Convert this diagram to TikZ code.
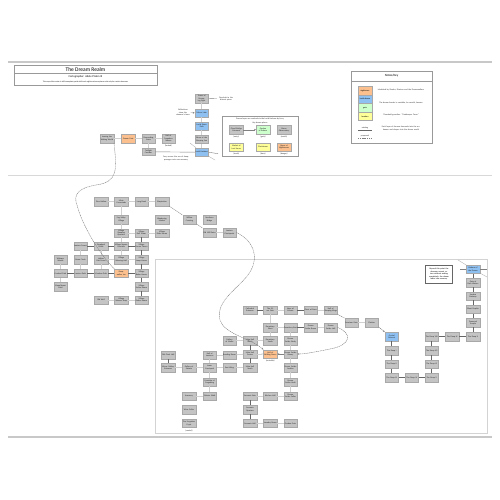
\documentclass[tikz,border=0pt]{standalone}
\usepackage{fontspec}
\setmainfont{Carlito}
\usetikzlibrary{arrows.meta,shadows}
\definecolor{boxfill}{HTML}{C4C4C4}
\definecolor{boxdraw}{HTML}{A8A8A8}
\definecolor{orangefill}{HTML}{FBC08E}
\definecolor{bluefill}{HTML}{8EC0F2}
\definecolor{greenfill}{HTML}{CCFFCC}
\definecolor{yellowfill}{HTML}{FFFF99}
\definecolor{linelight}{HTML}{D0D0D0}
\definecolor{linedark}{HTML}{666666}
\definecolor{framegray}{HTML}{C8C8C8}
\tikzset{
 box/.style={draw=boxdraw, fill=boxfill, line width=0.4pt, minimum width=13.5pt, minimum height=8.5pt, inner sep=0pt, text width=13pt, align=center, font=\fontsize{2.1}{2.4}\selectfont, text=black!85, drop shadow={shadow xshift=0.5pt, shadow yshift=-0.5pt, fill=black!60, opacity=1}},
 obox/.style={box, fill=orangefill},
 bbox/.style={box, fill=bluefill},
 gbox/.style={box, fill=greenfill},
 ybox/.style={box, fill=yellowfill},
 lite/.style={draw=linelight, line width=0.8pt},
 dark/.style={draw=linedark, line width=1pt},
 curvy/.style={draw=gray, line width=0.4pt, dash pattern=on 1.2pt off 0.6pt},
 tinytext/.style={font=\fontsize{2.1}{2.4}\selectfont, align=center, inner sep=0pt, text=black!80},
 arr/.style={-{Stealth[length=2pt,width=1.6pt]}},
}
\begin{document}
\begin{tikzpicture}[x=1pt,y=-1pt]
\useasboundingbox (0,0) rectangle (500,500);
\fill[white] (0,0) rectangle (500,500);

% frame lines
\draw[framegray, line width=1.6pt] (8,62) -- (492,62);
\draw[framegray!70, line width=1pt] (8,175) -- (492,175);
\draw[framegray, line width=1.6pt] (8,437) -- (492,437);
\draw[framegray!80, line width=0.6pt] (155,259) rectangle (487,433);

% title box
\draw[gray!80, line width=0.5pt] (14,65.7) rectangle (157,85);
\draw[gray!80, line width=0.5pt] (14,73.3) -- (157,73.3);
\node[font=\fontsize{5.5}{6}\selectfont, inner sep=0pt] (title) at (85.5,69.6) {The Dream Realm};
\node[font=\fontsize{2.8}{3}\selectfont, inner sep=0pt] (subtitle) at (85.5,77.2) {Cartographer: Adele Platon III};
\node[font=\fontsize{1.9}{2}\selectfont, inner sep=0pt] (subnote) at (85.5,81.6) {This map of the realm is still incomplete; paths shift each night and some places exist only for certain dreamers};

% legend
\draw[gray!80, line width=0.5pt] (351,71) rectangle (432,143);
\draw[gray!80, line width=0.5pt] (351,81) -- (432,81);
\node[font=\fontsize{3.2}{3.5}\selectfont, inner sep=0pt] (keyhead) at (391.5,76) {Notes/Key};
\node[draw=boxdraw, fill=orangefill, minimum width=14pt, minimum height=8.6pt, inner sep=0pt, font=\fontsize{2.1}{2.4}\selectfont] (k1) at (365,90.5) {nightmare};
\node[draw=boxdraw, fill=bluefill, minimum width=14pt, minimum height=8.6pt, inner sep=0pt, font=\fontsize{2.1}{2.4}\selectfont] (k2) at (365,99.1) {lucid dream};
\node[draw=boxdraw, fill=greenfill, minimum width=14pt, minimum height=8.6pt, inner sep=0pt, font=\fontsize{2.1}{2.4}\selectfont] (k3) at (365,107.7) {gate};
\node[draw=boxdraw, fill=yellowfill, minimum width=14pt, minimum height=8.6pt, inner sep=0pt, font=\fontsize{2.1}{2.4}\selectfont] (k4) at (365,116.3) {location};
\node[tinytext, text width=48pt] (kt1) at (401,89.6) {Inhabited by Shades, Illusions and the Dreamwalkers};
\node[tinytext, text width=48pt] (kt2) at (401,102.6) {The dream border is unstable, be careful, beware};
\node[tinytext, text width=48pt] (kt3) at (401,115.3) {Threshold guardian: ``Gatekeeper Taron''};
\node[tinytext, text width=48pt] (kt4) at (401,128.3) {Each layer of dreams descends into the unknown and deeper into the dream world};
\node[tinytext] (kl1) at (365,127.6) {existing};
\coordinate (kl1a) at (358,130);
\coordinate (kl1b) at (372,130);
\draw[linedark, line width=0.6pt] (kl1a) -- (kl1b);
\node[tinytext] (kl2) at (365,135.5) {proposed};
\coordinate (kl2a) at (358,137.8);
\coordinate (kl2b) at (372,137.8);
\draw[curvy] (kl2a) -- (kl2b);

% ---------- top section ----------
\node[box] (T1) at (107,138.5) {Leaving the Waking World};
\node[obox] (T2) at (128.3,138.5) {Dream Gate};
\node[box] (T3) at (148.5,138.5) {Descending Stairs};
\node[box] (T4) at (168.5,138.5) {Hall of Forgotten Names};
\node[tinytext] (T4l) at (168.5,145.6) {(locked)};
\node[box, minimum height=7.5pt] (T5) at (148.5,151.8) {Twilight Corridor};
\draw[lite] (T1) -- (T2);
\draw[lite] (T2) -- (T3);
\draw[lite] (T3) -- (T4);
\draw[lite] (T3) -- (T5);

\node[box] (C1) at (201.7,98.5) {Tower of Dreaming Sight};
\node[bbox] (C2) at (201.7,113) {Mirror Lake};
\node[bbox] (C3) at (201.7,126) {Lucid Shore Path};
\node[box] (C4) at (201.7,139.3) {Shore of the Sleeping Sea};
\node[bbox] (C5) at (201.7,152.2) {Lucid Harbour};
\draw[lite] (C1) -- (C2);
\draw[lite] (C2) -- (C3);
\draw[lite] (C3) -- (C4);
\draw[lite] (C4) -- (C5);
\node[tinytext, text width=18pt] (C1t) at (226,98.8) {Overlook to the distant spires};
\draw[gray, line width=0.3pt] (C1) -- (C1t);
\node[tinytext, text width=15pt] (C2t) at (183,112.6) {Reflections show the dreamer's fears};
\draw[gray, line width=0.3pt, arr] (C2t) -- (C2);
\coordinate (hl) at (218,153.7);
\draw[gray, line width=0.4pt] (T5.east) -- (C5.west);
\draw[gray, line width=0.4pt] (C5.east) -- (hl);
\coordinate (dg1) at (190,143);
\coordinate (dg2) at (215,160);
\draw[gray!70, line width=0.3pt] (dg1) -- (C5);
\draw[gray!70, line width=0.3pt] (C5) -- (dg2);
\node[tinytext, text width=26pt] (C5t) at (176,158.6) {Ferry across the sea of sleep; passage costs one memory};

% inner key box
\draw[gray!80, line width=0.5pt] (222,116.5) rectangle (298,156);
\node[tinytext] (ih1) at (260,119.2) {Dream layers are reached via the Lucid Harbour by ferry};
\node[tinytext] (ih2) at (260,123.2) {Key dream places};
\node[box] (I1) at (236.3,129.7) {Cloud Bridge Entrance};
\node[gbox] (I2) at (263,129.7) {Garden of Echoes};
\node[box] (I3) at (284,129.7) {Moon Observatory};
\node[ybox] (I4) at (236.3,147.2) {Market of Lost Hours};
\node[ybox] (I5) at (263,147.2) {Clock\-tower};
\node[obox] (I6) at (284,147.2) {Abyss of Nightmares};
\draw[gray, line width=0.3pt, arr] (I1) -- (I2);
\node[tinytext] (I1l) at (236.3,136.8) {(entry)};
\node[tinytext] (I2l) at (263,136.8) {(gate)};
\node[tinytext] (I3l) at (284,136.8) {(watch)};
\node[tinytext] (I4l) at (236.3,154.2) {(trade)};
\node[tinytext] (I5l) at (263,154.2) {(time)};
\node[tinytext] (I6l) at (284,154.2) {(danger)};

% ---------- left cluster ----------
\node[box] (a1) at (101.3,201.5) {Pine Hollow};
\node[box] (a2) at (121.3,201.5) {Misty Crossroads};
\node[box] (a3) at (141.5,201.5) {Long Road};
\node[box] (a4) at (162,201.5) {Waystation};
\node[box] (b1) at (121.3,219.5) {Fog Valley Village};
\node[box] (b2) at (162,219.5) {Wandering Market};
\node[box] (b3) at (189.5,219.5) {Willow Crossing};
\node[box] (b4) at (209.5,219.5) {Northern Bridge};
\node[box] (c1) at (121.3,233) {Village Sleeping Quarters};
\node[box] (c2) at (141.5,233) {Village Bell Tower};
\node[box] (c3) at (162,233) {Village Elder House};
\node[box] (c4) at (209.5,232.5) {Old Mill Ruins};
\node[box] (c5) at (229.5,232.5) {Lantern Checkpoint};
\node[box] (d1) at (80.5,246) {Lantern Forest};
\node[box] (d2) at (101,246) {Shepherd Fields};
\node[box] (d3) at (121.3,246) {Village Square Fountain};
\node[box] (d4) at (141.5,246) {Village Dream Tavern};
\node[box] (e1) at (60.5,259.5) {Whisper Woods};
\node[box] (e2) at (80.5,259.5) {Stone Circle};
\node[box] (e3) at (101,259.5) {Hollow Oak Grove};
\node[box] (e4) at (121.3,259.5) {Village Weaving Hall};
\node[box] (e5) at (141.5,259.5) {Village Lamp House};
\node[box] (f1) at (60.5,273.3) {Crooked Path};
\node[box] (f2) at (80.5,273.3) {Lantern Path};
\node[box] (f3) at (101,273.3) {Meadow Path};
\node[obox] (f4) at (121.3,273.3) {Sleep\-walker Inn};
\node[box] (f5) at (141.5,273.3) {Village Baker House};
\node[box] (g1) at (60.5,286.7) {Moonflower Field};
\node[box] (g5) at (141.5,286.7) {Village Scribe House};
\node[box] (h3) at (101,300) {Old Well};
\node[box] (h4) at (121.3,300) {Village Weaver Shop};
\node[box] (h5) at (141.5,300) {Village Potter House};

\draw[lite] (a1) -- (a2);
\draw[lite] (a2) -- (a3);
\draw[lite] (a3) -- (a4);
\draw[lite] (a2) -- (b1);
\draw[lite] (b1) -- (c1);
\draw[lite] (c1) -- (c2);
\draw[lite] (c2) -- (c3);
\draw[lite] (c1) -- (d3);
\draw[dark] (c2) -- (d4);
\draw[dark] (d1) -- (d2);
\draw[dark] (d2) -- (d3);
\draw[dark] (d3) -- (d4);
\draw[dark] (d4) -- (e5);
\draw[dark] (e5) -- (f5);
\draw[dark] (f5) -- (g5);
\draw[dark] (g5) -- (h5);
\draw[lite] (d1) -- (e2);
\draw[lite] (d2) -- (e3);
\draw[lite] (d3) -- (e4);
\draw[lite] (e3) -- (e4);
\draw[lite] (e4) -- (e5);
\draw[lite] (e1) -- (f1);
\draw[lite] (f1) -- (g1);
\draw[lite] (e2) -- (f2);
\draw[lite] (e3) -- (f3);
\draw[dark] (f1) -- (f2);
\draw[dark] (f2) -- (f3);
\draw[dark] (f3) -- (f4);
\draw[dark] (f4) -- (f5);
\draw[lite] (h3) -- (h4);
\draw[lite] (h4) -- (h5);
\draw[curvy] (a4.south east) -- (b3.north west);
\draw[curvy] (b3.south east) -- (c4.north west);
\draw[lite] (c4) -- (c5);

% first long curve
\draw[curvy] (T1.south east) .. controls (117,170) and (118,182) .. (96,185) .. controls (78,188) and (73,195) .. (77,205) .. controls (82,225) and (100,255) .. (f4.north west);

% ---------- bottom cluster ----------
\node[box] (p1) at (250,310) {Cathedral Entrance};
\node[box] (p2) at (270.3,310) {The Silver Stair};
\node[box] (p3) at (290.5,310) {Nave of Echoes};
\node[box] (p4) at (310.7,310) {Choir of Stars};
\node[box] (p5) at (330.7,310) {Hall of Sleeping Kings};
\node[box] (q2) at (270.3,327.5) {Dormitory West};
\node[box] (q3) at (290.5,327.5) {Dormitory East};
\node[box] (q4) at (310.7,327.5) {Dream Scribe Room};
\node[box] (q5) at (330.7,327.5) {Dream Scribe Hall};
\node[box] (s1) at (351.5,322.5) {Sanctum Gate};
\node[box] (s2) at (371.7,322.5) {Cloister};
\node[box] (r0) at (229.5,340.5) {Gallery of Masks};
\node[box] (r1) at (250,340.5) {Main Hall North};
\node[box] (r2) at (270.3,340.5) {Dormitory South};
\node[box] (r3) at (290.5,340.5) {Dream Scribe Study};
\node[box] (m0) at (168.2,355) {Old Clock Hall};
\node[box] (m2) at (209.7,355) {Hall of Lanterns};
\node[box] (m3) at (229.5,355) {Reading Room};
\node[box] (m4) at (250,354) {Main Hall Centre};
\node[obox] (ohall) at (270.3,354) {Hall of Shifting Doors};
\node[tinytext] (ol) at (270.3,361.2) {(unstable)};
\node[box] (m6) at (290.5,354) {Dream Scribe Library};
\node[box] (n0) at (168.2,367.5) {Mirror Gallery Entrance};
\node[box] (n1) at (189,367.5) {Gallery of Statues};
\node[box] (n2) at (209.7,367.5) {Inner Courtyard};
\node[box] (n3) at (229.5,367.5) {East Wing};
\node[box] (n4) at (250,367.5) {Main Hall South};
\node[box] (n6) at (290.5,367.5) {Dream Scribe Archive};
\node[box] (k2) at (209.7,382) {Fountain of Forgetting};
\node[box] (k6) at (290.5,382) {Dream Scribe Vault};
\node[box] (j1) at (189,396) {Armoury};
\node[box] (j2) at (209.7,396) {Cloister Walk};
\node[box] (j4) at (250,396) {Servants Stair};
\node[box] (j5) at (270.3,396) {Kitchen Hall};
\node[box] (j6) at (290.5,396) {Dream Scribe Cellar};
\node[box] (i1) at (189,409.5) {Wine Cellar};
\node[box] (i4) at (250,409.5) {Servants Quarters};
\node[box] (h1) at (189,423.3) {The Forgotten Crypt};
\node[tinytext] (h1l) at (189,430.6) {(sealed)};
\node[box] (hh4) at (250,423.3) {Servants Hall};
\node[box] (hh5) at (270.3,423.3) {Laundry Room};
\node[box] (hh6) at (290.5,423.3) {Garden Gate};

% second long curve
\draw[curvy, arr] (c5.east) .. controls (252,240) and (260,255) .. (250,272) .. controls (240,288) and (215,300) .. (220,320) .. controls (224,334) and (250,338) .. (ohall.north west);

\draw[dark] (p1) -- (p2);
\draw[lite] (p2) -- (p3);
\draw[dark] (p3) -- (p4);
\draw[lite] (p4) -- (p5);
\draw[lite] (p2) -- (q2);
\draw[lite] (q2) -- (r2);
\draw[lite] (q2) -- (q3);
\draw[dark] (q3) -- (q4);
\draw[lite] (q4) -- (q5);
\draw[lite] (q3) -- (r3);
\draw[lite] (r3) -- (m6);
\draw[lite] (m6) -- (n6);
\draw[lite] (n6) -- (k6);
\draw[lite] (k6) -- (j6);
\draw[lite] (r0) -- (r1);
\draw[lite] (r1) -- (r2);
\draw[dark] (r1) -- (m4);
\draw[dark] (m4) -- (n4);
\draw[lite, arr] (m4) -- (ohall);
\draw[lite] (m2) -- (m3);
\draw[lite] (m3) -- (m4);
\draw[dark] (m0) -- (n0);
\draw[lite] (n0) -- (n1);
\draw[lite] (n1) -- (n2);
\draw[lite] (n2) -- (n3);
\draw[lite] (n3) -- (n4);
\draw[lite] (m2) -- (n2);
\draw[lite] (n2) -- (k2);
\draw[lite] (k2) -- (j2);
\draw[lite] (j1) -- (j2);
\draw[dark] (j4) -- (i4);
\draw[dark] (i4) -- (hh4);
\draw[lite] (j4) -- (j5);
\draw[lite] (j5) -- (j6);
\draw[lite] (hh4) -- (hh5);
\draw[lite] (hh5) -- (hh6);
\draw[curvy] (p5.south east) -- (s1.north west);
\draw[lite] (s1) -- (s2);
\draw[curvy, arr] (q5.east) .. controls (352,333) and (352,345) .. (330,349) .. controls (315,352) and (305,354) .. (m6.east);
\draw[gray, line width=0.4pt, arr] (m6.west) -- (ohall.east);

% ---------- right chain ----------
\node[bbox] (R1) at (391.7,336.5) {Crystal Descent};
\node[box] (R2) at (391.7,350.8) {The Deep I};
\node[box] (R3) at (391.7,364.2) {The Deep II};
\node[box] (R4) at (391.7,377.5) {The Deep III};
\node[box] (R5) at (411.8,377.5) {The Deep IV};
\node[box] (R6) at (431.7,377.5) {The Deep V};
\node[box] (R7) at (431.7,364.2) {The Deep VI};
\node[box] (R8) at (431.7,350.8) {The Deep VII};
\node[box] (R9) at (431.7,336.5) {The Deep VIII};
\node[box] (R10) at (452.2,336.5) {The Deep IX};
\node[box] (R11) at (473,336.5) {The Deep X};
\node[box] (R12) at (473,322.7) {Drowned Temple};
\node[box] (R13) at (473,309.3) {Silent Depths};
\node[box] (R14) at (473,296) {Sunken Stairway};
\node[box] (R15) at (473,282.5) {Gate of Dark Waters};
\node[bbox] (R16) at (473,269.2) {Bottom of the Dream};
\draw[curvy, arr] (s2.south east) -- (R1.north west);
\draw[dark] (R1) -- (R2);
\draw[dark] (R2) -- (R3);
\draw[dark] (R3) -- (R4);
\draw[dark] (R4) -- (R5);
\draw[dark] (R5) -- (R6);
\draw[dark] (R6) -- (R7);
\draw[dark] (R7) -- (R8);
\draw[dark] (R8) -- (R9);
\draw[dark] (R9) -- (R10);
\draw[dark] (R10) -- (R11);
\draw[dark] (R11) -- (R12);
\draw[dark] (R12) -- (R13);
\draw[dark] (R13) -- (R14);
\draw[dark] (R14) -- (R15);
\draw[dark] (R15) -- (R16);
\coordinate (rh1) at (460,269.2);
\coordinate (rh2) at (487,269.2);
\coordinate (rd1) at (458,260);
\coordinate (rd2) at (487,277);
\draw[gray, line width=0.4pt] (rh1) -- (R16.west);
\draw[gray, line width=0.4pt] (R16.east) -- (rh2);
\draw[gray!70, line width=0.3pt] (rd1) -- (R16);
\draw[gray!70, line width=0.3pt] (R16) -- (rd2);
\node[draw=gray!80!black, line width=0.5pt, fill=white, minimum width=26.6pt, minimum height=18.3pt, text width=24pt, inner sep=0.5pt, align=center, font=\fontsize{2.1}{2.6}\selectfont] (note) at (439,274.2) {Beyond this point the dreamer cannot return without waking completely; the dream fades into memory.};

\end{tikzpicture}
\end{document}
